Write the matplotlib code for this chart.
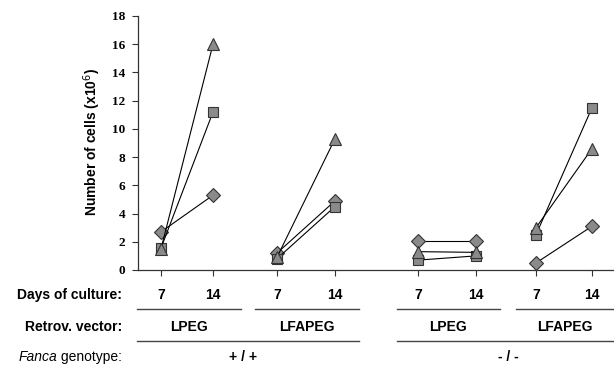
import matplotlib
matplotlib.use("Agg")
import matplotlib.pyplot as plt
from matplotlib.lines import Line2D

# cell counts (x10^6), one pair per group: (day 7, day 14)
groups = ["+/+ LPEG", "+/+ LFAPEG", "-/- LPEG", "-/- LFAPEG"]
diamond = [(2.7, 5.3), (1.2, 4.9), (2.05, 2.05), (0.5, 3.1)]
square = [(1.55, 11.2), (0.8, 4.5), (0.7, 1.0), (2.5, 11.5)]
triangle = [(1.5, 16.0), (0.9, 9.3), (1.3, 1.25), (3.0, 8.6)]

days = ["7", "14"]
vectors = ["LPEG", "LFAPEG", "LPEG", "LFAPEG"]
genotypes = ["+ / +", "- / -"]

# x positions (axis units) of day 7 / day 14 per group
xpos = [(23, 75), (139, 197), (280, 338), (398, 454)]

W, H = 614, 365
fig = plt.figure(figsize=(W / 100, H / 100), dpi=100)
ax = fig.add_axes([138 / W, (H - 270) / H, (W - 138) / W, (270 - 16) / H])

mk = dict(color="black", lw=0.8, markerfacecolor="#8a8a8a",
          markeredgecolor="#333333", markeredgewidth=0.8)
for i in range(len(groups)):
    x = xpos[i]
    ax.plot(x, diamond[i], marker="D", markersize=7, **mk)
    ax.plot(x, square[i], marker="s", markersize=7.5, **mk)
    ax.plot(x, triangle[i], marker="^", markersize=8.5, **mk)

ax.set_xlim(0, W - 138)
ax.set_ylim(0, 18)
ax.set_yticks(range(0, 19, 2))
ax.set_xticks([p for g in xpos for p in g])
ax.set_xticklabels([])
for s in ["top", "right"]:
    ax.spines[s].set_visible(False)
for s in ["left", "bottom"]:
    ax.spines[s].set_color("#333333")
    ax.spines[s].set_linewidth(0.9)
    ax.spines[s].set_clip_on(False)
ax.tick_params(axis="both", color="#333333", width=0.8, length=4)
ax.tick_params(axis="y", pad=5)
for lab in ax.get_yticklabels():
    lab.set_fontfamily("Liberation Serif")
    lab.set_fontweight("bold")
    lab.set_fontsize(9.5)

fig.text(92 / W, 1 - 142 / H, "Number of cells (x10$^6$)", rotation=90,
         ha="center", va="center", fontsize=10, fontweight="bold",
         family="Liberation Sans")


def fx(px):
    return px / W


def fy(py):
    return 1 - py / H


txt = dict(family="Liberation Sans", fontsize=10, fontweight="bold")
fig.text(fx(122), fy(295), "Days of culture:", ha="right", va="center", **txt)
fig.text(fx(122), fy(327), "Retrov. vector:", ha="right", va="center", **txt)

# days row
for g in xpos:
    for p, d in zip(g, days):
        fig.text(fx(p + 138), fy(295), d, ha="center", va="center", **txt)

# vector row + underlines
line_kw = dict(color="#444444", lw=1.0)
spans = [(137, 241), (255, 359), (397, 500), (516, 614)]
for (a, b), v in zip(spans, vectors):
    fig.add_artist(Line2D([fx(a), fx(b)], [fy(309), fy(309)], **line_kw))
    fig.text(fx((a + b) / 2), fy(327), v, ha="center", va="center", **txt)

# genotype row
gspans = [(137, 359), (397, 614)]
gcent = [243, 508]
for (a, b), c, gname in zip(gspans, gcent, genotypes):
    fig.add_artist(Line2D([fx(a), fx(b)], [fy(341), fy(341)], **line_kw))
    fig.text(fx(c), fy(357), gname, ha="center", va="center", **txt)

t2 = fig.text(fx(122), fy(357), " genotype:", ha="right", va="center",
              family="Liberation Sans", fontsize=10)
fig.canvas.draw()
bb = t2.get_window_extent(renderer=fig.canvas.get_renderer())
fig.text(bb.x0 / W, fy(357), "Fanca", ha="right", va="center",
         family="Liberation Sans", fontsize=10, style="italic")

fig.savefig("out.png", dpi=100)
